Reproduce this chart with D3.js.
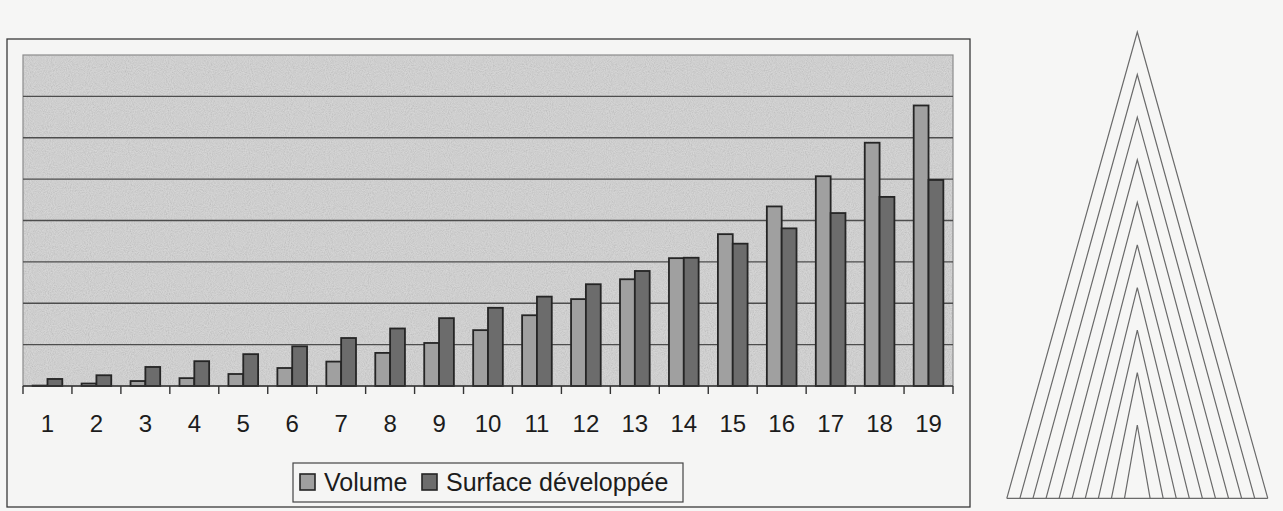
<!DOCTYPE html>
<html>
<head>
<meta charset="utf-8">
<script src="https://cdn.jsdelivr.net/npm/d3@7"></script>
<style>
  html, body { margin: 0; padding: 0; background: #f6f6f5; }
  svg { display: block; font-family: "Liberation Sans", Arial, sans-serif; }
</style>
</head>
<body>
<svg id="chart" width="1283" height="511"></svg>
<script>
// Cone sizes 1..19: volume and developed surface (same arbitrary unit scale)
const categories = ["1","2","3","4","5","6","7","8","9","10","11","12","13","14","15","16","17","18","19"];
const volume  = [10, 60, 120, 190, 290, 435, 590, 800, 1040, 1350, 1710, 2100, 2580, 3090, 3670, 4340, 5070, 5880, 6780];
const surface = [170, 260, 460, 600, 770, 960, 1160, 1390, 1640, 1890, 2160, 2460, 2780, 3100, 3440, 3810, 4180, 4570, 4980];
const seriesNames = ["Volume", "Surface développée"];
const valueMax = 8000;
const gridStep = 1000;
// nested outlines of the cone section drawn beside the chart
const layers = [0, 1, 2, 3, 4, 5, 6, 7, 8, 9];

const svg = d3.select("#chart");
const defs = svg.append("defs");

// paper grain for the plot fill
const grain = defs.append("filter").attr("id", "grain")
  .attr("x", 0).attr("y", 0).attr("width", 1).attr("height", 1);
grain.append("feTurbulence").attr("type", "fractalNoise")
  .attr("baseFrequency", 0.95).attr("numOctaves", 2).attr("seed", 3).attr("result", "n");
grain.append("feColorMatrix").attr("in", "n").attr("type", "matrix")
  .attr("values", "1 0 0 0 0  1 0 0 0 0  1 0 0 0 0  0 0 0 0 1");

const frame = { x: 7, y: 39, w: 963, h: 468 };
const plot = { left: 23, right: 953, top: 55, bottom: 386 };

// outer chart frame
svg.append("rect")
  .attr("x", frame.x).attr("y", frame.y).attr("width", frame.w).attr("height", frame.h)
  .attr("fill", "#f5f5f4").attr("stroke", "#3a3a3a").attr("stroke-width", 1.3);

const x0 = d3.scaleBand().domain(categories).range([plot.left, plot.right]).paddingInner(0).paddingOuter(0);
const x1 = d3.scaleBand().domain(seriesNames).range([0, x0.bandwidth()]).paddingInner(0).paddingOuter(0.65);
const y = d3.scaleLinear().domain([0, valueMax]).range([plot.bottom, plot.top]);
const colors = d3.scaleOrdinal().domain(seriesNames).range(["#a0a0a0", "#6c6c6c"]);

// plot background
svg.append("rect")
  .attr("x", plot.left).attr("y", plot.top)
  .attr("width", plot.right - plot.left).attr("height", plot.bottom - plot.top)
  .attr("fill", "#d3d3d3");
svg.append("rect")
  .attr("x", plot.left).attr("y", plot.top)
  .attr("width", plot.right - plot.left).attr("height", plot.bottom - plot.top)
  .attr("filter", "url(#grain)").attr("opacity", 0.18);
svg.append("rect")
  .attr("x", plot.left).attr("y", plot.top)
  .attr("width", plot.right - plot.left).attr("height", plot.bottom - plot.top)
  .attr("fill", "none").attr("stroke", "#8c8c8c").attr("stroke-width", 1.2);

// horizontal gridlines
const gridValues = d3.range(gridStep, valueMax, gridStep);
svg.append("g").selectAll("line").data(gridValues).join("line")
  .attr("x1", plot.left).attr("x2", plot.right)
  .attr("y1", d => y(d)).attr("y2", d => y(d))
  .attr("stroke", "#4d4d4d").attr("stroke-width", 1.3);

// bars
const rows = categories.map((c, i) => ({ cat: c, values: [volume[i], surface[i]] }));
const groups = svg.append("g").selectAll("g").data(rows).join("g")
  .attr("transform", d => `translate(${x0(d.cat)},0)`);
groups.selectAll("rect")
  .data(d => d.values.map((v, k) => ({ key: seriesNames[k], value: v })))
  .join("rect")
  .attr("x", d => x1(d.key))
  .attr("y", d => y(d.value))
  .attr("width", x1.bandwidth())
  .attr("height", d => y(0) - y(d.value))
  .attr("fill", d => colors(d.key))
  .attr("stroke", "#252525").attr("stroke-width", 1.8);

// category axis: labels centred, tick marks on band boundaries
const xAxis = svg.append("g")
  .attr("transform", `translate(0,${plot.bottom})`)
  .call(d3.axisBottom(x0).tickSize(0).tickPadding(29));
xAxis.select(".domain").remove();
xAxis.selectAll("text")
  .attr("font-size", 24).attr("fill", "#1c1c1c")
  .attr("font-family", "'Liberation Sans', Arial, sans-serif");

svg.append("line")
  .attr("x1", plot.left).attr("x2", plot.right)
  .attr("y1", plot.bottom).attr("y2", plot.bottom)
  .attr("stroke", "#333").attr("stroke-width", 1.4);
const boundaries = categories.map(c => x0(c)).concat([x0.range()[1]]);
svg.append("g").selectAll("line").data(boundaries).join("line")
  .attr("x1", d => d).attr("x2", d => d)
  .attr("y1", plot.bottom).attr("y2", plot.bottom + 8)
  .attr("stroke", "#333").attr("stroke-width", 1.4);

// legend
const legend = svg.append("g");
legend.append("rect")
  .attr("x", 293).attr("y", 463).attr("width", 390).attr("height", 39)
  .attr("fill", "none").attr("stroke", "#444").attr("stroke-width", 1.2);
const legendX = [300, 422];
const items = legend.selectAll("g.item").data(seriesNames).join("g").attr("class", "item")
  .attr("transform", (d, i) => `translate(${legendX[i]},474)`);
items.append("rect")
  .attr("width", 15).attr("height", 16)
  .attr("fill", d => colors(d)).attr("stroke", "#252525").attr("stroke-width", 1.6);
items.append("text")
  .attr("x", 24).attr("y", 17)
  .attr("font-size", 25).attr("fill", "#1c1c1c")
  .text(d => d);

// nested cone outlines
const cone = { cx: 1137.3, baseY: 498.3 };
const apexY = d3.scaleLinear().domain([0, 8, 9]).range([32, 372.7, 425]);
const halfBase = d3.scaleLinear().domain([0, 9]).range([130.5, 12.8]);
const coneG = svg.append("g").attr("fill", "none").attr("stroke", "#6a6a6a").attr("stroke-width", 1.2);
coneG.selectAll("path").data(layers).join("path")
  .attr("d", i => d3.line()([
    [cone.cx - halfBase(i), cone.baseY],
    [cone.cx, apexY(i)],
    [cone.cx + halfBase(i), cone.baseY]
  ]));
coneG.append("line")
  .attr("x1", cone.cx - halfBase(0)).attr("x2", cone.cx + halfBase(0))
  .attr("y1", cone.baseY).attr("y2", cone.baseY);
</script>
</body>
</html>
